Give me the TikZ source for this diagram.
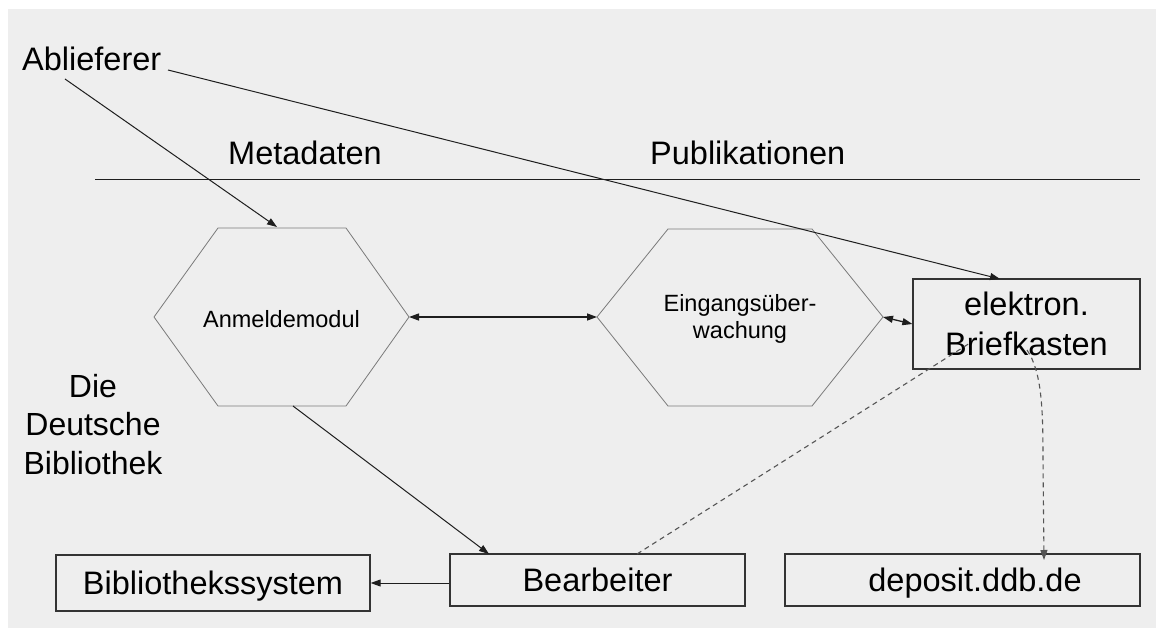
\documentclass[tikz,border=0pt]{standalone}
\usepackage{fontspec}
\setmainfont{Liberation Sans}
\usetikzlibrary{arrows.meta}
\definecolor{bg}{HTML}{EEEEEE}
\definecolor{boxc}{HTML}{333333}
\definecolor{linec}{HTML}{1E1E1E}
\definecolor{hexc}{HTML}{7A7A7A}
\definecolor{dashc}{HTML}{555555}
\begin{document}
\begin{tikzpicture}[x=1pt,y=-1pt,
  big/.style={font=\fontsize{32.5}{40}\selectfont, inner sep=0pt},
  hexfont/.style={font=\fontsize{23.5}{27}\selectfont, inner sep=0pt, align=center},
  box/.style={draw=boxc, line width=1.3pt, big, text depth=0pt},
  tip/.style={-{Triangle[length=10pt,width=7pt]}},
  arr/.style={tip, line width=1pt, draw=linec},
  darr/.style={{Triangle[length=10pt,width=7pt]}-{Triangle[length=10pt,width=7pt]}, line width=1.3pt, draw=linec},
  hexline/.style={draw=hexc, line width=0.8pt},
  dsh/.style={dash pattern=on 5pt off 4pt, draw=dashc, line width=1.1pt}]
\useasboundingbox (0,0) rectangle (1156,628);
\fill[white] (0,0) rectangle (1156,628);
\fill[bg] (8,9) rectangle (1156,628);

% hexagons
\draw[hexline] (154,317) coordinate (anmL) -- (218,228) -- (346,228) -- (409,317) coordinate (anmR)
  -- (346,406) -- (218,406) -- cycle;
\draw[hexline] (597,317) coordinate (eingL) -- (668,229) -- (812,229) -- (883,317) coordinate (eingR)
  -- (812,406) -- (668,406) -- cycle;
\coordinate (anmT) at (277,227);
\coordinate (anmB) at (293,406);
\node[hexfont, anchor=base] (anm) at (281.5,327) {Anmeldemodul};
\node[hexfont, anchor=north] (eing) at (740,294) {Eingangsüber-\\wachung};

% texts
\node[big, anchor=base west] (abl) at (22,71) {Ablieferer};
\coordinate (ablA) at (65,79);
\coordinate (ablB) at (168,70);
\node[big, anchor=base west] (meta) at (228,165) {Metadaten};
\node[big, anchor=base west] (publ) at (650,165) {Publikationen};
\coordinate (hl1) at (95,180);
\coordinate (hl2) at (1140,180);
\draw[line width=1pt, draw=linec] (hl1) -- (hl2);
\node[inner sep=0pt, font=\fontsize{32}{38.5}\selectfont, align=center, anchor=north] (ddb) at (93,374) {Die\\Deutsche\\Bibliothek};

% boxes
\node[box, minimum width=227pt, minimum height=90pt, align=center] (brief) at (1026.5,324) {elektron.\\Briefkasten};
\node[box, minimum width=295pt, minimum height=52pt] (bear) at (597.5,580) {Bearbeiter};
\node[box, minimum width=314pt, minimum height=56pt] (bib) at (213,583) {Bibliothekssystem};
\node[box, minimum width=355pt, minimum height=52pt] (dep) at (962.5,580) {\hspace*{25pt}deposit.ddb.de};

\coordinate (briefT) at (1000,279);
\coordinate (bearT) at (489,554);
\coordinate (bearD) at (637,554);
\coordinate (briefD) at (970,343);
\coordinate (briefE) at (1027,350);
\coordinate (depT) at (1044,560);

% connectors
\draw[arr] (ablA) -- (anmT);
\draw[arr] (ablB) -- (briefT);
\draw[arr] (anmB) -- (bearT);
\draw[darr] (anmR) -- (eingL);
\draw[darr] (eingR) -- (brief.west);
\draw[arr] (bear.west |- bib.east) -- (bib.east);
\draw[dsh] (bearD) -- (briefD);
\draw[dsh, tip] (briefE) .. controls (1042,372) and (1043,410) .. (1043,460) -- (depT);
\end{tikzpicture}
\end{document}
